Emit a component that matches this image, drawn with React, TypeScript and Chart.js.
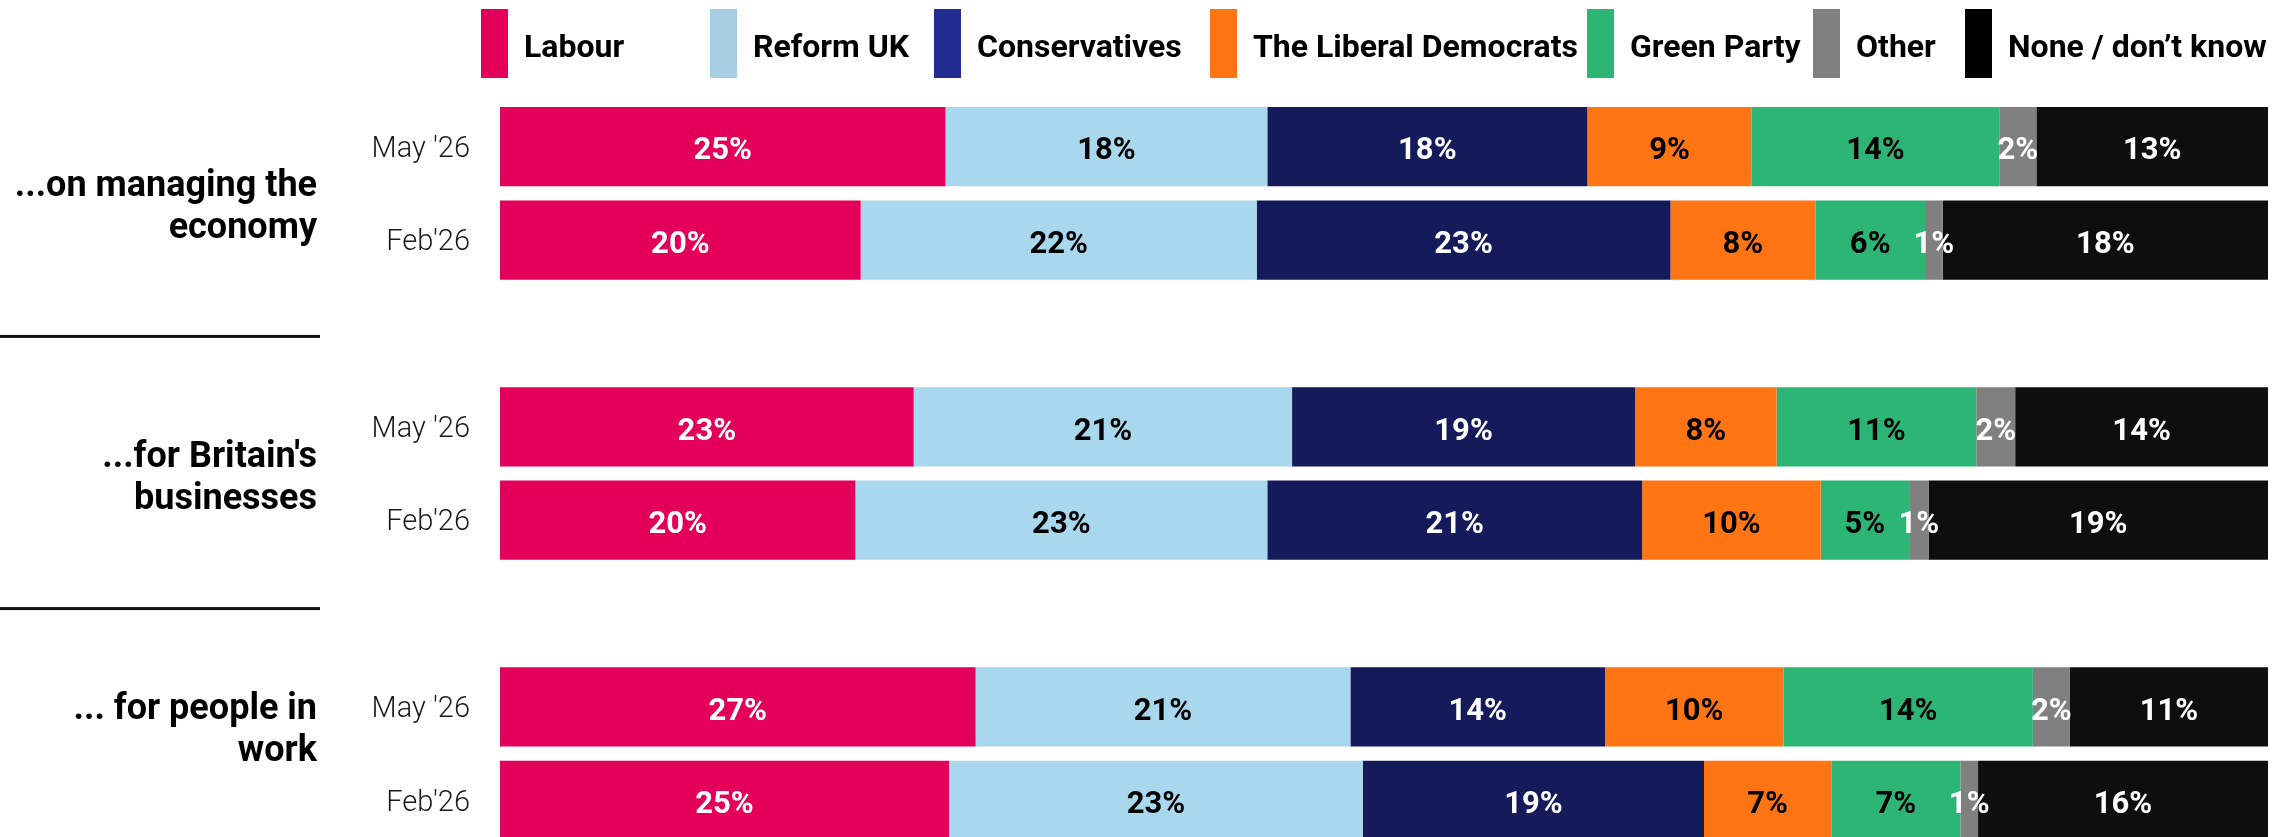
import React, { useEffect, useRef } from "react";
import { Chart, registerables } from "chart.js";

Chart.register(...registerables);

// ---------- data ----------
const categories = ["May '26", "Feb'26", "", "May '26", "Feb'26", "", "May '26", "Feb'26"];
const groupTitles = [
  ["...on managing the", "economy"],
  ["...for Britain's", "businesses"],
  ["... for people in", "work"],
];
const parties = ["Labour", "Reform UK", "Conservatives", "The Liberal Democrats", "Green Party", "Other", "None / don\u2019t know"];

const labour = [25.2, 20.4, null, 23.4, 20.1, null, 26.9, 25.4];
const reformUK = [18.2, 22.4, null, 21.4, 23.3, null, 21.2, 23.4];
const conservatives = [18.1, 23.4, null, 19.4, 21.2, null, 14.4, 19.3];
const libDems = [9.3, 8.2, null, 8.0, 10.1, null, 10.1, 7.2];
const greenParty = [14.0, 6.2, null, 11.3, 5.0, null, 14.1, 7.3];
const other = [2.1, 1.0, null, 2.2, 1.1, null, 2.1, 1.0];
const noneDontKnow = [13.1, 18.4, null, 14.3, 19.2, null, 11.2, 16.4];

const seriesValues = [labour, reformUK, conservatives, libDems, greenParty, other, noneDontKnow];

// ---------- styles / layout ----------
const barColors = ["#E4005A", "#A9D7ED", "#141A5A", "#FF7413", "#2DB575", "#808080", "#0E0E0E"];
const legendColors = ["#E4005A", "#A6CEE3", "#232C93", "#FF7413", "#2DB574", "#808080", "#000000"];
const labelColors = ["#FFFFFF", "#000000", "#FFFFFF", "#000000", "#000000", "#FFFFFF", "#FFFFFF"];
const legendBoxX = [481, 710, 934, 1210, 1587, 1813, 1965];
const groupTextOffset = [3, -7, -35];
const separatorOffset = [3, -5];

const W = 2287;
const H = 847;

const overlayPlugin = {
  id: "overlay",
  afterDatasetsDraw(chart: any) {
    const ctx = chart.ctx;
    ctx.save();
    ctx.font = "bold 31px Roboto, sans-serif";
    ctx.textAlign = "center";
    ctx.textBaseline = "middle";
    chart.data.datasets.forEach((ds: any, di: number) => {
      const meta = chart.getDatasetMeta(di);
      meta.data.forEach((el: any, i: number) => {
        const v = ds.data[i];
        if (v === null || v === undefined) return;
        const p = el.getProps(["x", "base", "y"], true);
        ctx.fillStyle = labelColors[di];
        ctx.fillText(Math.round(v) + "%", (p.x + p.base) / 2, p.y + 5);
      });
    });
    ctx.restore();
  },
  afterDraw(chart: any) {
    const ctx = chart.ctx;
    const y = chart.scales.y;
    ctx.save();
    // legend
    ctx.textAlign = "left";
    ctx.textBaseline = "alphabetic";
    ctx.font = "bold 32px Roboto, sans-serif";
    parties.forEach((name, i) => {
      ctx.fillStyle = legendColors[i];
      ctx.fillRect(legendBoxX[i], 9, 27, 69);
      ctx.fillStyle = "#000";
      ctx.fillText(name, legendBoxX[i] + 43, 57);
    });
    // group titles
    ctx.textAlign = "right";
    ctx.font = "bold 36px Roboto, sans-serif";
    ctx.fillStyle = "#000";
    groupTitles.forEach((lines, g) => {
      const c = (y.getPixelForValue(g * 3) + y.getPixelForValue(g * 3 + 1)) / 2;
      lines.forEach((ln, k) => {
        ctx.fillText(ln, 317, c + groupTextOffset[g] + k * 42);
      });
    });
    // separators
    ctx.fillStyle = "#111";
    [2, 5].forEach((v, k) => {
      const py = y.getPixelForValue(v) + separatorOffset[k];
      ctx.fillRect(0, py - 1.5, 320, 3);
    });
    ctx.restore();
  },
};

export default function App() {
  const ref = useRef<HTMLCanvasElement | null>(null);
  useEffect(() => {
    if (!ref.current) return;
    const chart = new Chart(ref.current, {
      type: "bar",
      data: {
        labels: categories,
        datasets: parties.map((p, i) => ({
          label: p,
          data: seriesValues[i],
          backgroundColor: barColors[i],
          borderWidth: 0,
          barPercentage: 0.85,
          categoryPercentage: 1,
        })),
      },
      options: {
        indexAxis: "y",
        responsive: false,
        animation: false,
        devicePixelRatio: 1,
        layout: { padding: { top: 100, right: 19, bottom: 0, left: 0 } },
        plugins: {
          legend: { display: false },
          tooltip: { enabled: false },
          title: { display: false },
        },
        scales: {
          x: { stacked: true, min: 0, max: 100, display: false },
          y: {
            stacked: true,
            grid: { display: false, drawTicks: false },
            border: { display: false },
            ticks: {
              padding: 30,
              labelOffset: 3,
              color: "#1a1a1a",
              font: { family: "Roboto, sans-serif", size: 29, weight: "300" },
            },
            afterFit: (scale: any) => {
              scale.width = 500;
              scale.paddingTop = 0;
              scale.paddingBottom = 0;
            },
          },
        },
      } as any,
      plugins: [overlayPlugin],
    });
    return () => chart.destroy();
  }, []);
  return (
    <canvas
      ref={ref}
      width={W}
      height={H}
      style={{ position: "fixed", top: 0, left: 0, width: W + "px", height: H + "px", display: "block" }}
    />
  );
}
